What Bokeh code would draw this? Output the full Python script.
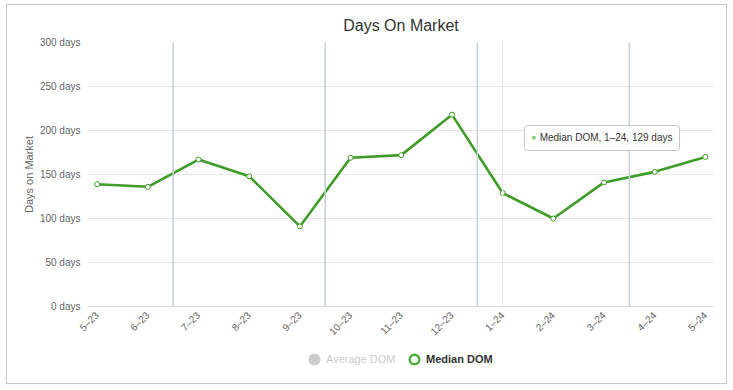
import math
from bokeh.plotting import figure
from bokeh.layouts import column
from bokeh.models import (ColumnDataSource, FixedTicker, Span, Label, Legend,
                          LegendItem, Range1d)
from bokeh.embed import file_html
from bokeh.resources import INLINE

# ---- data ----
months = ["5–23", "6–23", "7–23", "8–23", "9–23", "10–23", "11–23",
          "12–23", "1–24", "2–24", "3–24", "4–24", "5–24"]
median_dom = [139, 136, 167, 148, 91, 169, 172, 218, 129, 100, 141, 153, 170]
y_ticks = [0, 50, 100, 150, 200, 250, 300]
quarter_marks_after = ["6–23", "9–23", "12–23", "3–24"]
hover_month = "1–24"
series_name = "Median DOM"
hidden_series_name = "Average DOM"
title_text = "Days On Market"
y_title = "Days on Market"

FONT = "Liberation Sans"
GREEN = "#3f9c28"
LEGEND_GREEN = "#4caf3c"

xs = list(range(len(months)))
src = ColumnDataSource(dict(x=xs, y=median_dom))

p = figure(width=719, height=339, output_backend="svg", toolbar_location=None,
           x_range=Range1d(-0.17, len(months) - 1 + 0.16),
           y_range=Range1d(y_ticks[0], y_ticks[-1]),
           min_border_left=81, min_border_right=13, min_border_top=37,
           min_border_bottom=38, title=title_text)
p.outline_line_color = None
p.background_fill_color = "white"
p.border_fill_color = "white"

p.title.align = "center"
p.title.text_font = FONT
p.title.text_font_size = "16px"
p.title.text_font_style = "normal"
p.title.text_color = "#333333"
p.title.standoff = 17

# axes
p.xaxis.ticker = FixedTicker(ticks=xs)
p.xaxis.major_label_overrides = {i: m for i, m in enumerate(months)}
p.xaxis.major_label_orientation = math.pi / 4
p.xaxis.major_tick_line_color = None
p.xaxis.major_tick_out = 0
p.xaxis.major_tick_in = 0
p.xaxis.minor_tick_line_color = None
p.xaxis.axis_line_color = "#dcdcdc"
p.xaxis.major_label_text_font = FONT
p.xaxis.major_label_text_font_size = "10px"
p.xaxis.major_label_text_color = "#666666"
p.xaxis.major_label_standoff = 7

p.yaxis.ticker = FixedTicker(ticks=y_ticks)
p.yaxis.major_label_overrides = {t: f"{t} days" for t in y_ticks}
p.yaxis.axis_line_color = None
p.yaxis.major_tick_line_color = None
p.yaxis.major_tick_out = 0
p.yaxis.major_tick_in = 0
p.yaxis.minor_tick_line_color = None
p.yaxis.major_label_text_font = FONT
p.yaxis.major_label_text_font_size = "10px"
p.yaxis.major_label_text_color = "#666666"
p.yaxis.major_label_standoff = 8
p.yaxis.axis_label = y_title
p.yaxis.axis_label_text_font = FONT
p.yaxis.axis_label_text_font_size = "11px"
p.yaxis.axis_label_text_font_style = "normal"
p.yaxis.axis_label_text_color = "#666666"
p.yaxis.axis_label_standoff = 2

p.xgrid.visible = False
p.ygrid.grid_line_color = "#e6e6e6"
p.ygrid.ticker = FixedTicker(ticks=y_ticks)

# quarter plot lines
for m in quarter_marks_after:
    p.add_layout(Span(location=months.index(m) + 0.5, dimension="height",
                      line_color="#c5cfda", line_width=1.5))
# hover crosshair
hi = months.index(hover_month)
p.add_layout(Span(location=hi, dimension="height", line_color="#e2e6eb", line_width=1))

# series
p.line(x="x", y="y", source=src, line_color=GREEN, line_width=2.6)
p.scatter(x="x", y="y", source=src, size=5, marker="circle",
          fill_color="white", line_color=GREEN, line_width=1)

# static tooltip
tip = Label(x=hi, y=median_dom[hi], x_offset=22, y_offset=55,
            text=f"{series_name}, {months[hi]}, {median_dom[hi]} days",
            text_font=FONT, text_font_size="10px", text_color="#333333",
            text_align="left", text_baseline="middle",
            background_fill_color="white", background_fill_alpha=0.9,
            border_line_color="#c4c4c4", border_line_width=1,
            padding=dict(left=15, right=7, top=7, bottom=7), border_radius=3)
p.add_layout(tip)
sq = Label(x=hi, y=median_dom[hi], x_offset=31, y_offset=55, text="■",
           text_font=FONT, text_font_size="7px", text_color="#86cf78",
           text_align="center", text_baseline="middle")
p.add_layout(sq)

# ---- legend strip ----
q = figure(width=719, height=39, output_backend="svg", toolbar_location=None,
           x_range=Range1d(0, 1), y_range=Range1d(0, 1),
           x_axis_type=None, y_axis_type=None,
           min_border_left=0, min_border_right=0, min_border_top=0,
           min_border_bottom=0)
q.grid.visible = False
q.outline_line_color = None
q.border_fill_color = "white"
q.background_fill_color = "white"

nan = float("nan")
r_avg = q.scatter(x=[nan], y=[nan], marker="circle", size=12,
                  fill_color="#cccccc", line_color="#cccccc", line_width=2.5)
r_med = q.scatter(x=[nan], y=[nan], marker="circle", size=12,
                  fill_color="white", line_color=LEGEND_GREEN, line_width=2.5)

def mk_legend(label, r, color, style, loc):
    lg = Legend(items=[LegendItem(label=label, renderers=[r])], location=loc,
                orientation="horizontal", glyph_width=24, glyph_height=30,
                label_standoff=0, padding=0, margin=0,
                border_line_color=None, background_fill_alpha=0,
                label_text_font=FONT, label_text_font_size="11px",
                label_text_color=color, label_text_font_style=style,
                label_text_baseline="middle")
    q.add_layout(lg)

mk_legend(hidden_series_name, r_avg, "#cccccc", "normal", (214, 9))
mk_legend(series_name, r_med, "#333333", "bold", (314, 9))

layout = column(p, q, spacing=0,
                styles={"border": "1px solid #c8c8c8",
                        "margin-left": "6px", "margin-top": "4px"})

open("out.html", "w").write(file_html(layout, INLINE))
